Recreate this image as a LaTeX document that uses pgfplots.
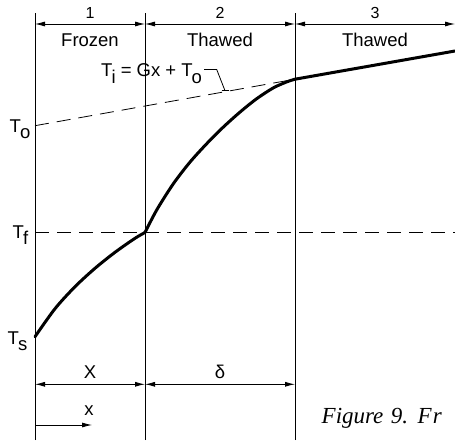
\documentclass[border=0pt]{standalone}
\usepackage{pgfplots}
\pgfplotsset{compat=1.18}
\usepackage{fontspec}
\setmainfont{Liberation Sans}
\newfontfamily\capfont{Liberation Serif}
\usetikzlibrary{arrows.meta}

% label font and the lowered subscripts of the drawing
\newcommand{\lbl}{\fontsize{18.5}{20}\selectfont}
\newcommand{\sub}[1]{\kern-1pt\raisebox{-6.5pt}{#1}}

\begin{document}
\begin{tikzpicture}[
  dim/.style={{Latex[length=10pt,width=5pt]}-{Latex[length=10pt,width=5pt]}, line width=0.8pt},
  thin dash/.style={black, line width=0.8pt, dash pattern=on 14pt off 8pt},
]
\begin{axis}[
  x=1pt, y=1pt,
  xmin=0, xmax=455, ymin=0, ymax=440,
  hide axis, clip=false,
]
\coordinate (ll) at (axis cs:0,0);
\coordinate (ur) at (axis cs:455,440);

% zone boundaries
\addplot[black, line width=1pt] coordinates {(35,0) (35,427.3)};
\addplot[black, line width=1pt] coordinates {(145,0) (145,427.3)};
\addplot[black, line width=1pt] coordinates {(295,0) (295,427.3)};

% freezing temperature and the linear extrapolation
\addplot[thin dash] coordinates {(35,207.7) (455,207.7)};
\addplot[thin dash] coordinates {(35,314.3) (295,360.8)};

% temperature profile
\addplot[black, line width=3pt, smooth, line cap=round] coordinates {
  (35,103.3) (55,131.3) (75,153.3) (95,171.7) (115,187.7) (135,201.7) (145,207.5)};
\addplot[black, line width=3pt, smooth, line cap=round] coordinates {
  (145,207.5) (156.7,230) (173.3,256.2) (190,277.9) (206.7,296.3)
  (223.3,312.9) (240,327.9) (256.7,341.3) (273.3,352.1) (286.7,358.1) (295,360.8)};
\addplot[black, line width=3pt, line cap=round] coordinates {(295,360.8) (455,389)};

% dimension arrows
\draw[dim] (axis cs:35,416) -- (axis cs:145,416);
\draw[dim] (axis cs:145,416) -- (axis cs:295,416);
\draw[dim] (axis cs:295,416) -- (axis cs:455,416);
\draw[dim] (axis cs:35,55.7) -- (axis cs:145,55.7);
\draw[dim] (axis cs:145,55.7) -- (axis cs:295,55.7);
\draw[-{Latex[length=10pt,width=5pt]}, line width=0.8pt] (axis cs:35,15) -- (axis cs:92,15);

% zone labels
\node[anchor=base, font=\fontsize{16}{17}\selectfont] at (axis cs:90,421.7) {1};
\node[anchor=base, font=\fontsize{16}{17}\selectfont] at (axis cs:220,421.7) {2};
\node[anchor=base, font=\fontsize{16}{17}\selectfont] at (axis cs:375,421.7) {3};
\node[anchor=base, font=\lbl] at (axis cs:90,393.3) {Frozen};
\node[anchor=base, font=\lbl] at (axis cs:220,393.3) {Thawed};
\node[anchor=base, font=\lbl] at (axis cs:375,393.3) {Thawed};

% equation with leader
\node[anchor=base west, inner sep=0, font=\lbl] at (axis cs:101,363.3)
  {T\sub{i} = Gx + T\sub{o}};
\draw[line width=0.8pt] (axis cs:204,370.5) -- (axis cs:216.7,370.5) -- (axis cs:225,349.3);
\draw[line width=0.8pt] (axis cs:221.5,349.3) -- (axis cs:228.5,349.3);

% temperature labels
\node[anchor=base west, inner sep=0, font=\lbl] at (axis cs:9.5,307.7) {T\sub{o}};
\node[anchor=base west, inner sep=0, font=\lbl] at (axis cs:12.5,201.7) {T\sub{f}};
\node[anchor=base west, inner sep=0, font=\lbl] at (axis cs:7.5,95.7) {T\sub{s}};

% length labels
\node[anchor=base, font=\lbl] at (axis cs:90,61.7) {X};
\node[anchor=base, font=\lbl] at (axis cs:220,61.7) {δ};
\node[anchor=base, font=\lbl] at (axis cs:89,25) {x};

% caption, cut by the page edge
\node[anchor=base west, inner sep=0, font=\capfont\itshape\fontsize{23}{24}\selectfont]
  at (axis cs:321.5,16.7) {Figure\hspace{0.32em}9.\hspace{0.42em}F\kern1pt r};
\end{axis}
\pgfresetboundingbox
\useasboundingbox (ll) rectangle (ur);
\end{tikzpicture}
\end{document}
